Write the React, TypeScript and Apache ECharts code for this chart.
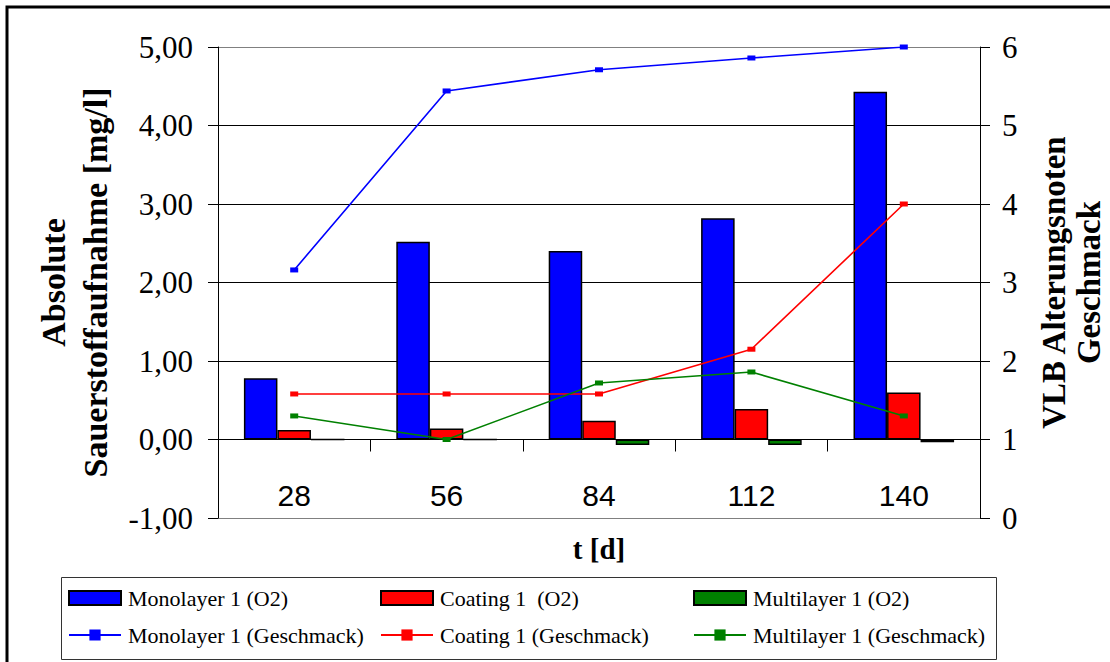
import React, { useEffect, useRef } from "react";
import * as echarts from "echarts";

const categories = ["28", "56", "84", "112", "140"];
const monoO2 = [0.78, 2.52, 2.4, 2.82, 4.43];
const coatO2 = [0.12, 0.14, 0.24, 0.39, 0.6];
const multiO2 = [0, 0, -0.07, -0.07, -0.035];
const monoTaste = [3.16, 5.44, 5.71, 5.86, 6.0];
const coatTaste = [1.58, 1.58, 1.58, 2.15, 4.0];
const multiTaste = [1.3, 1.0, 1.72, 1.86, 1.3];

const leftTicks = { min: -1, max: 5, interval: 1 };
const rightTicks = { min: 0, max: 6, interval: 1 };

const SERIF = "'Liberation Serif', 'Times New Roman', serif";
const SANS = "'Liberation Sans', Arial, sans-serif";

export default function App() {
  const ref = useRef<HTMLDivElement>(null);
  useEffect(() => {
    const chart = echarts.init(ref.current!, null, { renderer: "svg" });
    const barStyle = (c: string) => ({ color: c, borderColor: "#000", borderWidth: 1.5 });
    const lineSeries = (name: string, data: number[], c: string) => ({
      name,
      type: "line",
      yAxisIndex: 1,
      data,
      symbol: "rect",
      symbolSize: [8, 5],
      itemStyle: { color: c },
      lineStyle: { color: c, width: 1.6 },
      z: 5,
    });
    const legendCommon = {
      orient: "vertical",
      top: 587,
      padding: 0,
      itemGap: 15,
      itemWidth: 52,
      itemHeight: 14,
      textStyle: { fontFamily: SERIF, fontSize: 22, color: "#000", lineHeight: 22, padding: [0, 0, 0, 2] },
    };
    const barLegend = (name: string) => ({ name, icon: "rect" });
    chart.setOption({
      animation: false,
      backgroundColor: "#fff",
      grid: { left: 218, right: 130, top: 47, bottom: 144, containLabel: false, outerBoundsMode: "none" },
      legend: [
        { ...legendCommon, left: 68, data: [barLegend("Monolayer 1 (O2)"), "Monolayer 1 (Geschmack)"] },
        { ...legendCommon, left: 380, data: [barLegend("Coating 1  (O2)"), "Coating 1 (Geschmack)"] },
        { ...legendCommon, left: 693, data: [barLegend("Multilayer 1 (O2)"), "Multilayer 1 (Geschmack)"] },
      ],
      xAxis: {
        type: "category",
        data: categories,
        name: "t [d]",
        nameLocation: "middle",
        nameGap: 16,
        nameTextStyle: { fontFamily: SERIF, fontSize: 29, fontWeight: "bold", color: "#000" },
        axisLine: { onZero: true, lineStyle: { color: "#000", width: 1 } },
        axisTick: { show: true, length: 12, lineStyle: { color: "#000" } },
        axisLabel: { fontFamily: SANS, fontSize: 30, color: "#000", margin: -38 },
      },
      yAxis: [
        {
          type: "value",
          ...leftTicks,
          name: "Absolute\nSauerstoffaufnahme [mg/l]",
          nameLocation: "middle",
          nameRotate: 90,
          nameGap: 102,
          nameTextStyle: { fontFamily: SERIF, fontSize: 34, fontWeight: "bold", color: "#000", lineHeight: 42 },
          axisLine: { show: true, lineStyle: { color: "#000", width: 1 } },
          axisTick: { show: true, length: 10, lineStyle: { color: "#000" } },
          axisLabel: {
            fontFamily: SERIF,
            fontSize: 31,
            color: "#000",
            margin: 25,
            formatter: (v: number) => v.toFixed(2).replace(".", ","),
          },
          splitLine: {
            show: true,
            lineStyle: { color: ["#808080", "#000", "#000", "#000", "#000", "#000", "#808080"], width: 1 },
          },
        },
        {
          type: "value",
          ...rightTicks,
          name: "VLB Alterungsnoten\nGeschmack",
          nameLocation: "middle",
          nameRotate: 90,
          nameGap: 56,
          nameTextStyle: { fontFamily: SERIF, fontSize: 33, fontWeight: "bold", color: "#000", lineHeight: 35 },
          axisLine: { show: true, lineStyle: { color: "#000", width: 1 } },
          axisTick: { show: true, length: 10, lineStyle: { color: "#000" } },
          axisLabel: { fontFamily: SERIF, fontSize: 31, color: "#000", margin: 22 },
          splitLine: { show: false },
        },
      ],
      series: [
        { name: "Monolayer 1 (O2)", type: "bar", data: monoO2, itemStyle: barStyle("#0000FF"), barGap: "0%", barCategoryGap: "34%" },
        { name: "Coating 1  (O2)", type: "bar", data: coatO2, itemStyle: barStyle("#FF0000"), barGap: "0%", barCategoryGap: "34%" },
        { name: "Multilayer 1 (O2)", type: "bar", data: multiO2, itemStyle: barStyle("#008000"), barGap: "0%", barCategoryGap: "34%" },
        lineSeries("Monolayer 1 (Geschmack)", monoTaste, "#0000FF"),
        lineSeries("Coating 1 (Geschmack)", coatTaste, "#FF0000"),
        lineSeries("Multilayer 1 (Geschmack)", multiTaste, "#008000"),
      ],
      graphic: [
        { type: "rect", shape: { x: 7, y: 7, width: 1130, height: 690 }, style: { fill: "none", stroke: "#000", lineWidth: 3 }, silent: true },
        { type: "rect", shape: { x: 61.5, y: 577.5, width: 935, height: 82 }, style: { fill: "none", stroke: "#333", lineWidth: 1 }, silent: true },
      ],
    });
    return () => chart.dispose();
  }, []);
  return <div ref={ref} style={{ position: "fixed", left: 0, top: 0, width: 1110, height: 662, background: "#fff" }} />;
}
